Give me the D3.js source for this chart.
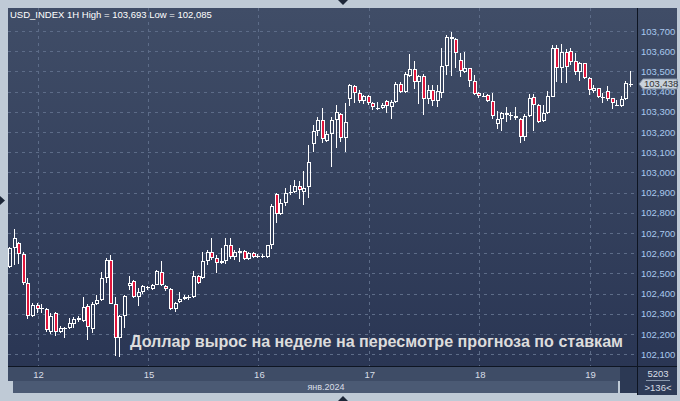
<!DOCTYPE html>
<html><head><meta charset="utf-8">
<script src="https://cdn.jsdelivr.net/npm/d3@7"></script>
<style>html,body{margin:0;padding:0;background:#bfcad6;}svg{display:block;}</style>
</head><body>
<script>
const opens = [102.533,102.627,102.652,102.594,102.455,102.290,102.346,102.331,102.326,102.211,102.302,102.208,102.227,102.232,102.252,102.282,102.265,102.340,102.224,102.351,102.371,102.480,102.569,102.351,102.179,102.290,102.439,102.462,102.384,102.406,102.429,102.421,102.445,102.506,102.439,102.421,102.323,102.359,102.376,102.384,102.384,102.488,102.478,102.563,102.607,102.579,102.554,102.563,102.643,102.582,102.599,102.612,102.574,102.599,102.587,102.588,102.582,102.640,102.891,102.792,102.851,102.901,102.901,102.934,102.901,102.926,103.139,103.205,103.259,103.157,103.188,103.259,103.287,103.172,103.362,103.428,103.391,103.355,103.378,103.342,103.320,103.320,103.353,103.322,103.347,103.436,103.400,103.479,103.510,103.446,103.479,103.362,103.408,103.355,103.395,103.527,103.669,103.659,103.556,103.495,103.515,103.454,103.391,103.378,103.383,103.353,103.238,103.263,103.296,103.284,103.281,103.264,103.177,103.281,103.375,103.334,103.256,103.292,103.375,103.614,103.515,103.594,103.603,103.553,103.499,103.540,103.466,103.405,103.416,103.370,103.405,103.367,103.333,103.329,103.362,103.437];
const highs = [102.632,102.719,102.657,102.607,102.480,102.356,102.356,102.351,102.331,102.302,102.310,102.239,102.236,102.282,102.285,102.288,102.384,102.348,102.359,102.392,102.508,102.577,102.591,102.384,102.293,102.392,102.487,102.467,102.426,102.442,102.437,102.450,102.516,102.561,102.445,102.426,102.359,102.406,102.392,102.392,102.511,102.492,102.607,102.615,102.678,102.591,102.627,102.677,102.677,102.615,102.624,102.615,102.607,102.607,102.596,102.596,102.643,102.842,102.899,102.871,102.921,102.937,102.962,102.957,103.007,103.135,103.234,103.272,103.320,103.205,103.276,103.333,103.292,103.345,103.436,103.431,103.408,103.383,103.383,103.350,103.350,103.342,103.358,103.358,103.449,103.449,103.499,103.584,103.551,103.482,103.485,103.433,103.433,103.433,103.614,103.680,103.693,103.664,103.589,103.598,103.518,103.482,103.400,103.395,103.388,103.391,103.305,103.301,103.322,103.301,103.322,103.271,103.287,103.386,103.388,103.338,103.334,103.403,103.631,103.631,103.634,103.611,103.614,103.593,103.548,103.543,103.471,103.433,103.419,103.391,103.428,103.370,103.358,103.378,103.452,103.502];
const lows = [102.528,102.541,102.549,102.445,102.277,102.285,102.302,102.302,102.208,102.199,102.191,102.203,102.183,102.227,102.232,102.260,102.260,102.173,102.203,102.346,102.364,102.454,102.348,102.090,102.085,102.232,102.417,102.378,102.338,102.397,102.417,102.417,102.442,102.439,102.414,102.318,102.310,102.354,102.368,102.368,102.381,102.450,102.472,102.541,102.566,102.503,102.549,102.549,102.574,102.566,102.558,102.569,102.566,102.579,102.579,102.579,102.577,102.620,102.751,102.789,102.833,102.888,102.896,102.871,102.838,102.875,103.102,103.182,103.147,103.152,103.028,103.119,103.152,103.102,103.329,103.342,103.345,103.338,103.333,103.309,103.309,103.312,103.292,103.263,103.342,103.391,103.391,103.474,103.413,103.337,103.284,103.337,103.329,103.322,103.367,103.482,103.479,103.518,103.471,103.490,103.424,103.381,103.370,103.372,103.350,103.263,103.216,103.205,103.251,103.259,103.259,103.147,103.157,103.276,103.206,103.243,103.251,103.289,103.371,103.449,103.441,103.441,103.532,103.482,103.454,103.461,103.383,103.395,103.370,103.342,103.353,103.312,103.329,103.322,103.358,103.424];
const closes = [102.624,102.676,102.594,102.455,102.290,102.346,102.326,102.328,102.219,102.288,102.208,102.232,102.232,102.257,102.277,102.269,102.335,102.236,102.351,102.371,102.480,102.569,102.351,102.179,102.290,102.389,102.455,102.384,102.406,102.439,102.431,102.445,102.511,102.445,102.421,102.326,102.356,102.376,102.384,102.385,102.488,102.455,102.563,102.607,102.579,102.554,102.563,102.640,102.582,102.604,102.610,102.574,102.602,102.582,102.588,102.587,102.640,102.835,102.792,102.851,102.896,102.902,102.934,102.913,102.921,103.050,103.205,103.259,103.165,103.188,103.259,103.297,103.172,103.248,103.431,103.391,103.355,103.378,103.342,103.322,103.321,103.332,103.329,103.347,103.436,103.400,103.485,103.510,103.446,103.477,103.362,103.408,103.355,103.403,103.527,103.669,103.659,103.589,103.502,103.515,103.454,103.386,103.378,103.377,103.353,103.281,103.263,103.296,103.284,103.285,103.267,103.173,103.281,103.367,103.334,103.251,103.292,103.380,103.614,103.515,103.598,103.520,103.548,103.499,103.540,103.466,103.408,103.416,103.375,103.371,103.362,103.342,103.334,103.362,103.441,103.438];
const dayIndex = [6, 30, 54, 78, 102, 126];
const dayLabels = ["12", "15", "16", "17", "18", "19"];
const priceTicks = [102.1,102.2,102.3,102.4,102.5,102.6,102.7,102.8,102.9,103.0,103.1,103.2,103.3,103.4,103.5,103.6,103.7];
const titleText = "USD_INDEX 1H High = 103,693 Low = 102,085";
const noteText = "Доллар вырос на неделе на пересмотре прогноза по ставкам";
const monthLabel = "янв.2024";
const lastPrice = 103.438;
const barCount = "5203";
const visibleCount = ">136<";

const W = 680, H = 401;
const plot = {l: 8, t: 8, r: 637, b: 366};
const FONT = "'Liberation Sans', Arial, sans-serif";
const svg = d3.select("body").append("svg").attr("width", W).attr("height", H);
const defs = svg.append("defs");
const g = defs.append("linearGradient").attr("id","bg").attr("x1",0).attr("y1",0).attr("x2",0).attr("y2",1);
g.append("stop").attr("offset","0%").attr("stop-color","#404d67");
g.append("stop").attr("offset","100%").attr("stop-color","#2a3654");

svg.append("rect").attr("width",W).attr("height",H).attr("fill","#bfcad6");
svg.append("rect").attr("x",plot.l).attr("y",plot.t).attr("width",677-plot.l).attr("height",plot.b-plot.t).attr("fill","url(#bg)");

const x = d3.scaleLinear().domain([0,135]).range([10,631]);
const y = d3.scaleLinear().domain([102.1,103.7]).range([354.3,31]);
const fmt = v => d3.format(".3f")(v).replace(".", ",");

// grid
const grid = svg.append("g").attr("stroke","#5d6c88").attr("stroke-dasharray","3,4").attr("stroke-width",1);
priceTicks.forEach(p => {
  const yy = Math.round(y(p)) + 0.5;
  grid.append("line").attr("x1",plot.l).attr("x2",plot.r).attr("y1",yy).attr("y2",yy);
});
dayIndex.forEach(i => {
  const xx = Math.round(x(i)) + 0.5;
  grid.append("line").attr("x1",xx).attr("x2",xx).attr("y1",plot.t).attr("y2",plot.b);
});

// candles
const data = opens.map((o,i)=>({i, o, h: highs[i], l: lows[i], c: closes[i]}));
const cg = svg.append("g");
data.forEach(d => {
  const xr = Math.round(x(d.i));
  const yo = y(d.o), yc = y(d.c);
  let top = Math.round(Math.min(yo,yc)), bot = Math.round(Math.max(yo,yc));
  if (bot - top < 1) bot = top + 1;
  const yh = Math.round(y(d.h)), yl = Math.round(y(d.l));
  const down = d.c < d.o;
  if (yh < top) cg.append("line").attr("x1",xr-0.5).attr("x2",xr-0.5).attr("y1",yh).attr("y2",top).attr("stroke","#fff");
  if (yl > bot) cg.append("line").attr("x1",xr-0.5).attr("x2",xr-0.5).attr("y1",bot).attr("y2",yl).attr("stroke","#fff");
  cg.append("rect").attr("x",xr-1.5).attr("y",top+0.5).attr("width",3).attr("height",bot-top-1 > 0 ? bot-top-1 : 0.01)
    .attr("fill", down ? "#e0163c" : "none").attr("stroke","#fff").attr("stroke-width",1);
});

// plot border lines
svg.append("line").attr("x1",plot.r+0.5).attr("x2",plot.r+0.5).attr("y1",plot.t).attr("y2",395).attr("stroke","#0e1522");
svg.append("line").attr("x1",plot.l).attr("x2",677).attr("y1",plot.b+0.5).attr("y2",plot.b+0.5).attr("stroke","#0e1522");

// right axis labels
const ax = svg.append("g").attr("font-family",FONT).attr("font-size","9.5px").attr("fill","#a9c8ee");
priceTicks.forEach(p => {
  ax.append("text").attr("x",641).attr("y",y(p)+3.5).text(fmt(p));
});

// last price marker
const yl = y(lastPrice);
svg.append("path").attr("d",`M639,${yl} L643,${yl-5} L677,${yl-5} L677,${yl+5} L643,${yl+5} Z`)
  .attr("fill","#c9d2dc").attr("stroke","#7f8ea3");
svg.append("text").attr("x",644).attr("y",yl+3.5).attr("font-family",FONT).attr("font-size","9.5px").attr("fill","#333").text(fmt(lastPrice));

// title
svg.append("text").attr("x",10).attr("y",18).attr("font-family",FONT).attr("font-size","9.5px").attr("fill","#ffffff").text(titleText);

// annotation: size font so natural width spans 130..625
const note = svg.append("text").attr("x",130).attr("y",347).attr("font-family",FONT).attr("font-weight","bold").attr("font-size","17px")
  .attr("fill","#dcdcdc").text(noteText);
const nw = note.node().getComputedTextLength();
if (nw > 0) note.attr("font-size", (17 * 493 / nw).toFixed(2) + "px");

// bottom strip
svg.append("rect").attr("x",plot.l).attr("y",367).attr("width",plot.r-plot.l).attr("height",14).attr("fill","#3e4c66");
svg.append("rect").attr("x",plot.l+5).attr("y",381).attr("width",605).attr("height",12).attr("fill","#4b5a74");
svg.append("rect").attr("x",620).attr("y",367).attr("width",17).attr("height",26).attr("fill","#2c3954");
svg.append("rect").attr("x",638).attr("y",367).attr("width",39).attr("height",28).attr("fill","#2e3b57");
const bx = svg.append("g").attr("font-family",FONT).attr("font-size","9.5px").attr("fill","#d8dee6").attr("text-anchor","middle");
dayIndex.forEach((i,k) => bx.append("text").attr("x",x(i)+1).attr("y",378).text(dayLabels[k]));
bx.append("text").attr("x",326).attr("y",390).attr("font-size","9px").text(monthLabel);
bx.append("text").attr("x",658).attr("y",377).text(barCount);
bx.append("text").attr("x",658).attr("y",391).text(visibleCount);
svg.append("line").attr("x1",646).attr("x2",670).attr("y1",380.5).attr("y2",380.5).attr("stroke","#8a98ad");

// edge markers
svg.append("path").attr("d","M0,196 L5,200.5 L0,205 Z").attr("fill","#1d2738");
svg.append("path").attr("d","M338,0 L348,0 L343,5 Z").attr("fill","#1d2738");
svg.append("path").attr("d","M338,401 L348,401 L343,396 Z").attr("fill","#1d2738");
</script>
</body></html>
